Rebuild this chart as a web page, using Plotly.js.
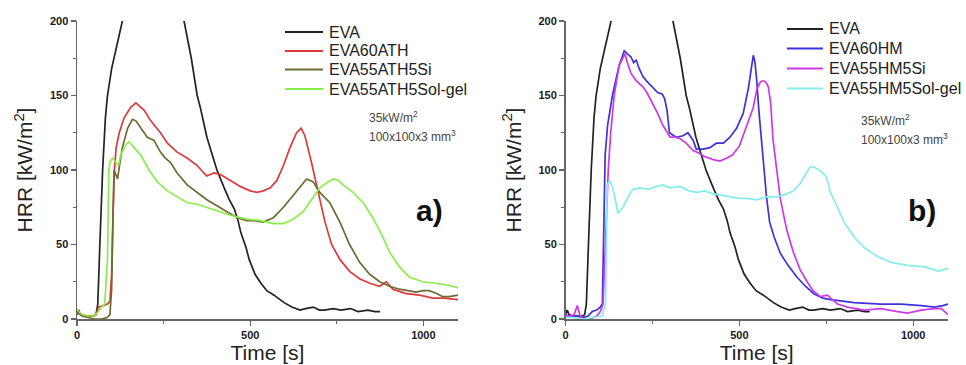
<!DOCTYPE html>
<html>
<head>
<meta charset="utf-8">
<script src="https://cdn.plot.ly/plotly-3.0.1.min.js"></script>
<style>html,body{margin:0;padding:0;background:#fff;}#chart{width:966px;height:365px;}</style>
</head>
<body>
<div id="chart"></div>
<script>
// ---- Data (time in s, HRR in kW/m2) ----
const evaT = [0,5,10,20,35,50,55,60,66,74,82,88,100,110,122,131,150,200,260,300,309,330,347,356,375,396,404,425,440,454,465,473,488,497,514,531,548,569,585,598,620,644,660,682,700,714,740,762,790,811,840,860,875];
const evaV = [3,6,3,2,2,2,3,10,50,100,135,150,168,178,190,200,225,270,250,210,200,175,150,142,122,106,100,88,80,74,66,58,48,40,30,24,19,16,13,11,8,6,7,8,6,6,7,6,7,5,6,5,5];

const athT = [0,5,15,30,45,55,62,75,88,95,100,104,108,113,122,136,155,170,184,194,213,241,261,289,318,347,366,375,395,414,443,471,500,519,538,558,577,596,615,634,647,658,677,696,716,735,759,787,816,845,874,893,912,950,989,1027,1060,1100];
const athV = [5,4,3,2,2,3,8,9,10,12,30,70,100,115,125,135,142,145,142,140,133,125,118,112,108,103,98,96,98,97,93,89,86,85,86,88,93,103,115,125,128,123,105,85,65,50,40,32,27,24,22,25,20,17,16,14,14,13];

const athSiT = [0,5,15,30,50,70,87,95,100,104,107,112,117,124,131,146,160,170,184,193,203,212,222,241,255,270,289,318,347,375,404,433,462,490,510,538,567,596,624,649,663,682,701,730,759,787,816,845,874,902,931,955,979,1000,1017,1040,1056,1075,1100];
const athSiV = [3,4,2,1,0,0,1,3,20,70,100,97,94,105,115,128,134,133,128,125,122,121,120,112,108,105,98,90,85,80,76,72,68,66,66,65,68,75,83,90,94,92,85,78,65,50,38,30,25,22,20,19,18,19,19,17,15,15,16];

const athSgT = [0,5,15,30,50,62,70,80,88,92,96,103,112,120,126,135,141,150,158,165,184,208,232,261,289,318,347,375,414,452,490,529,567,596,624,653,677,701,725,740,755,768,797,826,854,883,902,931,960,998,1036,1065,1100];
const athSgV = [7,5,3,2,2,5,8,10,40,100,106,108,105,103,110,114,117,119,117,115,110,100,92,86,82,78,77,75,72,69,67,66,64,64,67,72,80,88,92,94,93,90,85,78,68,55,45,35,28,25,24,23,21];

const hmT = [0,5,15,30,50,65,77,90,100,106,110,114,121,135,154,169,178,188,196,203,212,222,232,251,265,278,285,292,299,318,338,352,367,376,396,415,434,454,473,492,511,526,536,540,545,550,556,563,570,578,587,600,618,640,666,690,714,740,762,791,830,907,965,1023,1062,1085,1100];
const hmV = [4,2,2,2,1,2,5,6,8,10,60,110,130,150,170,180,178,176,172,174,168,163,160,155,152,151,148,140,125,122,123,125,120,114,114,115,118,118,122,128,138,155,172,177,172,160,140,120,100,82,65,55,44,36,28,22,17,14,13,12,11,10,10,9,8,9,10];

const hmSiT = [0,5,15,25,34,42,50,70,90,100,108,113,118,123,130,140,154,166,171,178,188,203,222,234,250,265,280,301,315,330,347,367,378,400,425,444,464,480,500,521,540,550,560,568,576,583,590,597,607,617,627,636,655,675,695,712,733,753,782,811,859,907,955,984,1023,1060,1081,1100];
const hmSiV = [3,2,2,3,9,2,0,0,2,5,10,40,80,100,125,150,170,176,178,172,165,160,156,152,145,138,130,122,122,121,118,113,112,109,107,106,108,110,116,129,142,154,159,160,159,156,145,120,100,82,70,60,45,33,25,19,15,16,10,8,6,7,5,4,6,7,7,3];

const hmSgT = [0,20,50,80,105,115,120,127,136,145,151,158,165,180,194,214,240,261,281,299,330,355,378,400,425,450,473,500,521,550,578,610,636,656,675,690,703,714,722,736,751,762,782,801,830,859,897,936,984,1033,1062,1071,1085,1100];
const hmSgV = [1,1,0,1,2,10,90,93,88,78,71,73,75,82,87,88,87,89,90,88,89,86,85,86,84,83,82,81,81,80,82,82,84,86,91,97,102,102,101,99,95,85,75,65,55,48,42,38,36,35,33,32,33,34];

const namesA = ['EVA','EVA60ATH','EVA55ATH5Si','EVA55ATH5Sol-gel'];
const namesB = ['EVA','EVA60HM','EVA55HM5Si','EVA55HM5Sol-gel'];
const colorsA = ['#222222','#de3a3a','#6e6a32','#8aee4a'];
const colorsB = ['#222222','#3f32dc','#cc3ae8','#86ecec'];
const xTicks = [0,500,1000];
const yTicks = [0,50,100,150,200];

// ---- Traces ----
const seriesA = [[evaT,evaV],[athT,athV],[athSiT,athSiV],[athSgT,athSgV]];
const seriesB = [[evaT,evaV],[hmT,hmV],[hmSiT,hmSiV],[hmSgT,hmSgV]];
const traces = [];
seriesA.forEach((s,i)=>traces.push({x:s[0],y:s[1],name:namesA[i],type:'scatter',mode:'lines',
  line:{color:colorsA[i],width:1.7},xaxis:'x',yaxis:'y',showlegend:false}));
seriesB.forEach((s,i)=>traces.push({x:s[0],y:s[1],name:namesB[i],type:'scatter',mode:'lines',
  line:{color:colorsB[i],width:1.7},xaxis:'x2',yaxis:'y2',showlegend:false}));

// ---- Layout helpers (pixel -> paper) ----
const W=966, H=365, MT=21, MB=46, PH=H-MT-MB;
const px = p => p/W;
const py = p => 1-(p-MT)/PH;
const FONT = 'Liberation Sans, Arial, sans-serif';

const axisBase = {showline:true, linecolor:'#666', linewidth:1.5, ticks:'outside', ticklen:5, tickwidth:1.3,
  tickcolor:'#666', showgrid:false, zeroline:false,
  tickfont:{family:FONT,size:11,color:'#1a1a1a',weight:'bold'}};
function xAxis(dom){return Object.assign({},axisBase,{domain:dom,range:[0,1100],tickvals:xTicks,
  minor:{ticks:'outside',ticklen:3,tickcolor:'#666',dtick:250,tick0:0},
  title:{text:'Time [s]',font:{family:FONT,size:21,color:'#222'},standoff:2}});}
function yAxis(anchor){return Object.assign({},axisBase,{anchor:anchor,range:[0,200],tickvals:yTicks,
  minor:{ticks:'outside',ticklen:3,tickcolor:'#666',dtick:25,tick0:0},
  title:{text:'HRR [kW/m<sup>2</sup>]',font:{family:FONT,size:21,color:'#222'},standoff:11}});}

const shapes=[], annotations=[];
function legend(x0,x1,rows,names,colors){
  names.forEach((n,i)=>{
    shapes.push({type:'line',xref:'paper',yref:'paper',x0:px(x0),x1:px(x1),y0:py(rows[i]),y1:py(rows[i]),
      line:{color:colors[i],width:2}});
    annotations.push({xref:'paper',yref:'paper',x:px(x1+4),y:py(rows[i]),xanchor:'left',yanchor:'middle',
      text:n,showarrow:false,font:{family:FONT,size:16,color:'#222'}});
  });
}
legend(285,323,[32,51,69.5,89],namesA,colorsA);
legend(787,823,[29,48.5,68.5,88.5],namesB,colorsB);
function note(x,y1,y2){
  annotations.push({xref:'paper',yref:'paper',x:px(x),y:py(y1),xanchor:'left',yanchor:'middle',showarrow:false,
    text:'35kW/m<sup>2</sup>',font:{family:FONT,size:12,color:'#444'}});
  annotations.push({xref:'paper',yref:'paper',x:px(x),y:py(y2),xanchor:'left',yanchor:'middle',showarrow:false,
    text:'100x100x3 mm<sup>3</sup>',font:{family:FONT,size:12,color:'#444'}});
}
note(367,117,136);
note(859,120,139);
annotations.push({xref:'paper',yref:'paper',x:px(429),y:py(210),xanchor:'center',yanchor:'middle',showarrow:false,
  text:'<b>a)</b>',font:{family:FONT,size:30,color:'#111'}});
annotations.push({xref:'paper',yref:'paper',x:px(922),y:py(210),xanchor:'center',yanchor:'middle',showarrow:false,
  text:'<b>b)</b>',font:{family:FONT,size:30,color:'#111'}});

const layout = {
  width:W, height:H, margin:{l:0,r:0,t:MT,b:MB,pad:0},
  paper_bgcolor:'#fff', plot_bgcolor:'#fff', showlegend:false,
  xaxis: xAxis([77/W,458/W]),
  yaxis: yAxis('x'),
  xaxis2: xAxis([565.5/W,948/W]),
  yaxis2: yAxis('x2'),
  shapes:shapes, annotations:annotations
};
layout.xaxis2.anchor='y2';
layout.xaxis.anchor='y';

Plotly.newPlot('chart', traces, layout, {displayModeBar:false, staticPlot:true});
</script>
</body>
</html>
